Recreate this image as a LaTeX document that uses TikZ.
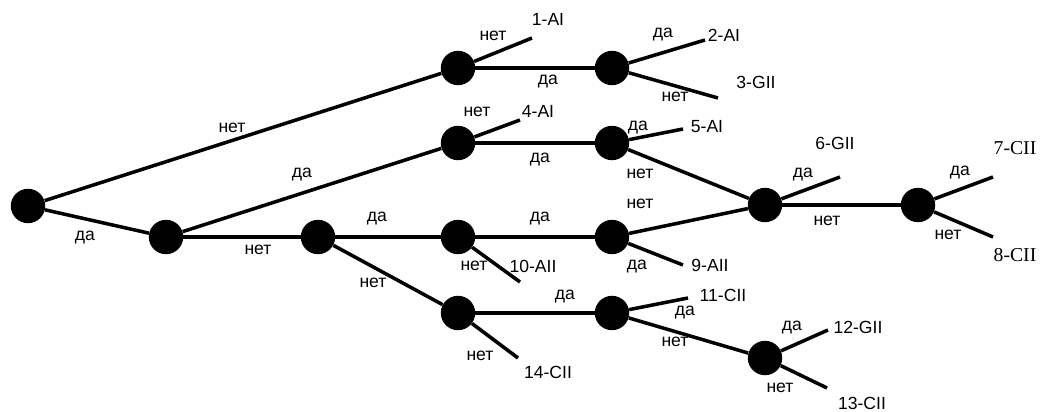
\documentclass[tikz,border=0pt]{standalone}
\usepackage{fontspec}
\setmainfont{Liberation Sans}
\newfontfamily\serifcls{Liberation Serif}
\usetikzlibrary{positioning}

\begin{document}
\begin{tikzpicture}[x=0.025cm, y=-0.025cm, every node/.style={font=\fontsize{12.5}{14}\selectfont, inner sep=0pt}]
\tikzset{dot/.style={circle, fill=black, minimum size=0.86cm},
	br/.style={line width=2.5pt},
	cls/.style={font=\serifcls\fontsize{14}{16}\selectfont}}
\useasboundingbox (0,0) rectangle (1040,412);

% decision points
\node[dot] (root) at (28,206) {};
\node[dot] (a) at (166,237) {};
\node[dot] (b) at (318,237) {};
\node[dot] (n1) at (458,68) {};
\node[dot] (n2) at (612,68) {};
\node[dot] (n3) at (458,143) {};
\node[dot] (n4) at (612,143) {};
\node[dot] (n5) at (765,205) {};
\node[dot] (n6) at (918,205) {};
\node[dot] (n7) at (458,237) {};
\node[dot] (n8) at (612,237) {};
\node[dot] (n9) at (458,313) {};
\node[dot] (n10) at (612,313) {};
\node[dot] (n11) at (765,358) {};

% leaf ends
\coordinate (e1) at (532,38);
\coordinate (e2) at (705,40);
\coordinate (e3) at (718,98);
\coordinate (e4) at (520,120);
\coordinate (e5) at (683,129);
\coordinate (e6) at (840,177);
\coordinate (e7) at (993,177);
\coordinate (e8) at (993,237);
\coordinate (e9) at (683,265);
\coordinate (e10) at (520,282);
\coordinate (e11) at (688,298);
\coordinate (e12) at (828,330);
\coordinate (e13) at (827,388);
\coordinate (e14) at (518,358);

% branches
\draw[br] (root) -- (n1);
\draw[br] (root) -- (a);
\draw[br] (a) -- (n3);
\draw[br] (a) -- (b);
\draw[br] (b) -- (n7);
\draw[br] (b) -- (n9);
\draw[br] (n1) -- (n2);
\draw[br] (n3) -- (n4);
\draw[br] (n4) -- (n5);
\draw[br] (n7) -- (n8);
\draw[br] (n8) -- (n5);
\draw[br] (n5) -- (n6);
\draw[br] (n9) -- (n10);
\draw[br] (n10) -- (n11);
\draw[br] (n1) -- (e1);
\draw[br] (n2) -- (e2);
\draw[br] (n2) -- (e3);
\draw[br] (n3) -- (e4);
\draw[br] (n4) -- (e5);
\draw[br] (n5) -- (e6);
\draw[br] (n6) -- (e7);
\draw[br] (n6) -- (e8);
\draw[br] (n8) -- (e9);
\draw[br] (n7) -- (e10);
\draw[br] (n10) -- (e11);
\draw[br] (n11) -- (e12);
\draw[br] (n11) -- (e13);
\draw[br] (n9) -- (e14);

% answers
\node (t1) at (232,128) {нет};
\node (t2) at (85,238) {да};
\node (t3) at (302,175) {да};
\node (t4) at (258,250) {нет};
\node (t5) at (377,219) {да};
\node (t6) at (373,283) {нет};
\node (t7) at (493,36) {нет};
\node (t8) at (548,82) {да};
\node (t9) at (663,35) {да};
\node (t10) at (675,97) {нет};
\node (t11) at (477,112) {нет};
\node (t12) at (540,160) {да};
\node (t13) at (638,128) {да};
\node (t14) at (640,174) {нет};
\node (t15) at (640,204) {нет};
\node (t16) at (540,219) {да};
\node (t17) at (637,267) {да};
\node (t18) at (474,266) {нет};
\node (t19) at (803,175) {да};
\node (t20) at (827,221) {нет};
\node (t21) at (960,173) {да};
\node (t22) at (948,235) {нет};
\node (t23) at (565,297) {да};
\node (t24) at (480,356) {нет};
\node (t25) at (685,313) {да};
\node (t26) at (675,342) {нет};
\node (t27) at (792,328) {да};
\node (t28) at (780,388) {нет};

% classes
\node (c1) at (548,19) {1-AI};
\node (c2) at (724,35) {2-AI};
\node (c3) at (756,82) {3-GII};
\node (c4) at (538,111) {4-AI};
\node (c5) at (707,127) {5-AI};
\node (c6) at (835,143) {6-GII};
\node[cls] (c7) at (1015,148) {7-CII};
\node[cls] (c8) at (1015,255) {8-CII};
\node (c9) at (710,265) {9-AII};
\node (c10) at (533,266) {10-AII};
\node (c11) at (723,295) {11-CII};
\node (c12) at (858,327) {12-GII};
\node (c13) at (862,403) {13-CII};
\node (c14) at (548,372) {14-CII};
\end{tikzpicture}
\end{document}
